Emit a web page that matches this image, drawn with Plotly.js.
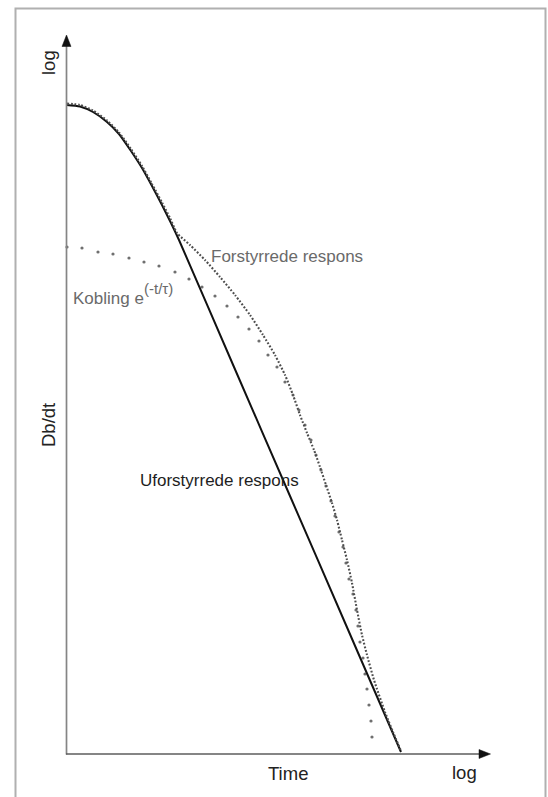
<!DOCTYPE html>
<html>
<head>
<meta charset="utf-8">
<script src="https://cdn.plot.ly/plotly-3.0.1.min.js"></script>
<style>
  html, body { margin: 0; padding: 0; background: #ffffff; }
  #chart { width: 548px; height: 797px; }
</style>
</head>
<body>
<div id="chart"></div>
<script>
// Schematic decay curves on log axes (arbitrary units: log time vs log dB/dt)

// Undisturbed response (solid)
const uforTime = [0.5, 14, 27, 41, 53, 65, 76, 86, 96, 105, 113, 168, 224, 280, 335];
const uforResp = [649, 647.5, 642, 632, 620, 603, 586, 568, 549, 531, 514, 387, 258, 129, 2];

// Disturbed response (dense dotted)
const forTime = [1, 14, 27, 41, 53, 65, 76, 86, 96, 104, 111, 124, 139, 154, 169, 184, 197, 209, 219, 227,
                 234, 241, 248, 254, 260, 266, 271, 276, 281, 286, 291, 296, 301, 308, 319, 327, 335];
const forResp = [650.5, 649, 643.5, 633.5, 621.5, 605, 588, 570, 551.5, 536, 521, 509, 494, 477, 459, 439, 419, 399, 379, 359,
                 339, 321, 304, 287, 269, 251, 234, 214, 194, 171, 144, 119, 99, 74, 42, 22, 3];

// Coupling term e^(-t/tau) (sparse dots)
const koblTime = [1, 16, 32, 47, 63, 78, 93, 109, 123, 136, 149, 161, 172, 183, 193, 202, 211, 219, 227, 233,
                  239, 245, 250, 255, 260, 265, 269, 273, 277, 280, 283, 287, 290, 292, 294, 297, 299, 301, 303, 305, 306];
const koblResp = [507, 506, 502, 500, 496, 492, 488, 482, 475, 467, 458, 448, 437, 425, 413, 399, 387, 372, 359, 344,
                  329, 314, 299, 284, 268, 253, 238, 222, 207, 191, 175, 160, 144, 128, 112, 96, 80, 65, 49, 33, 17];

// Text labels
const labelDisturbed = "Forstyrrede respons";
const labelUndisturbed = "Uforstyrrede respons";
const labelCoupling = "Kobling e";
const labelCouplingExp = "(-t/τ)";
const labelXAxis = "Time";
const labelYAxis = "Db/dt";
const labelLog = "log";

// Figure geometry
const W = 548, H = 797;
const M = { l: 66, r: 58, t: 35, b: 43 };
const PW = W - M.l - M.r, PH = H - M.t - M.b;
// page pixel -> paper fraction
const fx = px => (px - M.l) / PW;
const fy = py => (H - M.b - py) / PH;

const FONT = "Liberation Sans, Arial, Helvetica, sans-serif";

const traces = [
  {
    x: koblTime, y: koblResp, type: "scatter", mode: "markers",
    marker: { size: 3.2, color: "#6f6f6f" },
    cliponaxis: false, hoverinfo: "skip"
  },
  {
    x: uforTime, y: uforResp, type: "scatter", mode: "lines",
    line: { color: "#111111", width: 2, shape: "spline", smoothing: 0.6 },
    cliponaxis: false, hoverinfo: "skip"
  },
  {
    x: forTime, y: forResp, type: "scatter", mode: "lines",
    line: { color: "#4d4d4d", width: 2.1, dash: "1.8px,1.8px", shape: "spline", smoothing: 0.6 },
    cliponaxis: false, hoverinfo: "skip"
  }
];

function ann(text, x, y, opts) {
  return Object.assign({
    text: text, xref: "paper", yref: "paper", x: fx(x), y: fy(y),
    showarrow: false, xanchor: "left", yanchor: "middle",
    font: { family: FONT, size: 17, color: "#6a6a6a" }
  }, opts || {});
}

const annotations = [
  ann(labelDisturbed, 209, 256),
  ann(labelCoupling, 71, 298),
  ann(labelCouplingExp, 142, 288, { font: { family: FONT, size: 15, color: "#6a6a6a" } }),
  ann(labelUndisturbed, 138, 480, { font: { family: FONT, size: 17, color: "#1e1e1e" } }),
  ann(labelXAxis, 288, 773, { xanchor: "center", font: { family: FONT, size: 18.5, color: "#222222" } }),
  ann(labelLog, 464, 772, { xanchor: "center", font: { family: FONT, size: 18.5, color: "#222222" } }),
  ann(labelLog, 49, 63, { xanchor: "center", textangle: -90, font: { family: FONT, size: 18.5, color: "#222222" } }),
  ann(labelYAxis, 48, 425, { xanchor: "center", textangle: -90, font: { family: FONT, size: 18.5, color: "#222222" } })
];

const shapes = [
  // outer frame
  { type: "rect", xref: "paper", yref: "paper", x0: fx(15.5), x1: fx(545.5), y0: fy(812), y1: fy(8.5),
    line: { color: "#b0b0b0", width: 2 }, fillcolor: "rgba(0,0,0,0)", layer: "below" },
  // y axis
  { type: "line", xref: "paper", yref: "paper", x0: fx(66.5), x1: fx(66.5), y0: fy(754.5), y1: fy(44),
    line: { color: "#858585", width: 1.7 } },
  // x axis
  { type: "line", xref: "paper", yref: "paper", x0: fx(66), x1: fx(482), y0: fy(754), y1: fy(754),
    line: { color: "#5c5c5c", width: 1.7 } },
  // arrowheads
  { type: "path", xref: "paper", yref: "paper",
    path: `M ${fx(66.5)} ${fy(35)} L ${fx(62)} ${fy(46.5)} L ${fx(71)} ${fy(46.5)} Z`,
    fillcolor: "#111111", line: { color: "#111111", width: 0.5 } },
  { type: "path", xref: "paper", yref: "paper",
    path: `M ${fx(490.5)} ${fy(754)} L ${fx(479)} ${fy(749.5)} L ${fx(479)} ${fy(758.5)} Z`,
    fillcolor: "#111111", line: { color: "#111111", width: 0.5 } }
];

const hidden = { visible: false, showgrid: false, zeroline: false, showticklabels: false, showline: false, fixedrange: true };

const layout = {
  width: W, height: H,
  margin: { l: M.l, r: M.r, t: M.t, b: M.b, pad: 0 },
  paper_bgcolor: "#ffffff", plot_bgcolor: "#ffffff",
  showlegend: false,
  xaxis: Object.assign({ range: [0, PW] }, hidden),
  yaxis: Object.assign({ range: [0, PH] }, hidden),
  annotations: annotations,
  shapes: shapes,
  font: { family: FONT }
};

Plotly.newPlot("chart", traces, layout, { staticPlot: true, displayModeBar: false });
</script>
</body>
</html>
